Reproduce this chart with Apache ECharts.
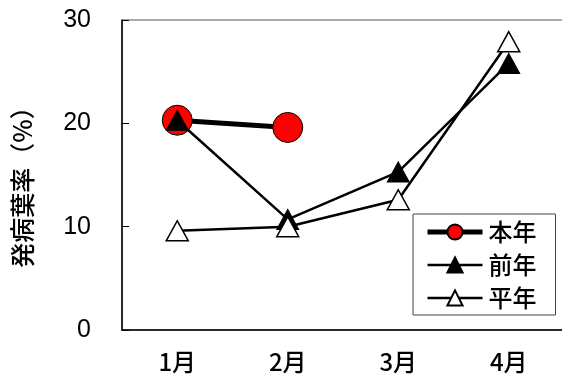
<!DOCTYPE html>
<html>
<head>
<meta charset="utf-8">
<script src="https://cdn.jsdelivr.net/npm/echarts@6/dist/echarts.min.js"></script>
<style>
  html, body { margin: 0; padding: 0; background: #fff; }
  #chart { width: 562px; height: 379px; }
</style>
</head>
<body>
<div id="chart"></div>
<script>
// データ
const months = ['1月', '2月', '3月', '4月'];
const honnen = [20.3, 19.6, null, null];
const zennen = [20.3, 10.7, 15.3, 25.8];
const heinen = [9.6, 10.0, 12.6, 27.9];
const yTicks = [0, 10, 20, 30];
const yTitle = '発病葉率（%）';

const jpFont = '"Noto Sans CJK JP", sans-serif';

const chart = echarts.init(document.getElementById('chart'));

const option = {
  animation: false,
  grid: {
    left: 122, top: 20, width: 442, height: 310,
    outerBoundsMode: 'none',
    containLabel: false,
    show: true, borderColor: '#555', borderWidth: 1
  },
  // 縦軸タイトル
  graphic: [{
    type: 'text',
    x: 22, y: 181,
    rotation: Math.PI / 2,
    style: {
      text: yTitle,
      fontFamily: jpFont, fontSize: 25, fontWeight: 500,
      fill: '#000',
      align: 'center', verticalAlign: 'middle'
    }
  }],
  legend: {
    left: 413, top: 214,
    orient: 'vertical',
    backgroundColor: '#fff',
    borderColor: '#444', borderWidth: 1,
    padding: [6, 19, 5, 12],
    itemWidth: 55, itemHeight: 19, itemGap: 9,
    textStyle: { fontFamily: jpFont, fontSize: 24, fontWeight: 500, color: '#000', padding: [0, 0, 0, 1] },
    data: [
      { name: '本年', lineStyle: { width: 5 } },
      { name: '前年', lineStyle: { width: 2.5 } },
      { name: '平年', lineStyle: { width: 2.5 } }
    ]
  },
  xAxis: {
    type: 'category',
    data: months,
    boundaryGap: true,
    axisLine: { lineStyle: { color: '#000', width: 1.5 } },
    axisTick: { inside: true, length: 7, lineStyle: { color: '#000' } },
    axisLabel: { fontFamily: jpFont, fontSize: 24, fontWeight: 500, color: '#000', margin: 20 }
  },
  yAxis: {
    type: 'value',
    min: yTicks[0], max: yTicks[yTicks.length - 1], interval: 10,
    axisLine: { show: true, lineStyle: { color: '#000', width: 1.5 } },
    axisTick: { show: true, inside: true, length: 7, lineStyle: { color: '#000' } },
    splitLine: { show: false },
    axisLabel: { fontFamily: '"Liberation Sans", Arial, sans-serif', fontSize: 25, color: '#000', margin: 31 }
  },
  series: [
    {
      name: '本年', type: 'line', data: honnen, z: 2,
      symbol: 'circle', symbolSize: 30,
      lineStyle: { color: '#000', width: 5 },
      itemStyle: { color: '#ff0000', borderColor: '#000', borderWidth: 1 }
    },
    {
      name: '前年', type: 'line', data: zennen, z: 3,
      symbol: 'triangle', symbolSize: [22, 20],
      lineStyle: { color: '#000', width: 2.5 },
      itemStyle: { color: '#000', borderColor: '#000', borderWidth: 1 }
    },
    {
      name: '平年', type: 'line', data: heinen, z: 4,
      symbol: 'triangle', symbolSize: [22, 20],
      lineStyle: { color: '#000', width: 2.5 },
      itemStyle: { color: '#fff', borderColor: '#000', borderWidth: 1.5 }
    }
  ]
};

chart.setOption(option);
</script>
</body>
</html>
